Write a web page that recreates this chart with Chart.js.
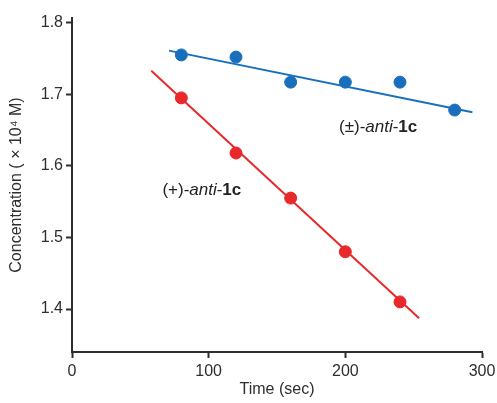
<!DOCTYPE html>
<html>
<head>
<meta charset="utf-8">
<script src="https://cdn.jsdelivr.net/npm/chart.js@4"></script>
<style>
  html, body { margin: 0; padding: 0; background: #fff; }
  #wrap { width: 497px; height: 403px; }
</style>
</head>
<body>
<div id="wrap"><canvas id="chart"></canvas></div>
<script>
// datos
const timeSec = [80, 120, 160, 200, 240, 280];
const racemic = [1.755, 1.752, 1.717, 1.717, 1.717, 1.678];
const timePlus = [80, 120, 160, 200, 240];
const plus = [1.695, 1.618, 1.555, 1.480, 1.410];
// extremos de las rectas de ajuste
const racemicFitX = [71, 293];
const racemicFitY = [1.761, 1.675];
const plusFitX = [58, 254];
const plusFitY = [1.733, 1.387];
const yTicks = [1.4, 1.5, 1.6, 1.7, 1.8];
const xTicks = [0, 100, 200, 300];

const blue = '#1a6fbd';
const red = '#e8282b';
const ink = '#2e2e2e';
const fam = '"Liberation Sans", Arial';

function pts(xs, ys) {
    return xs.map((x, i) => ({ x: x, y: ys[i] }));
}

// etiquetas con partes en cursiva y negrita
const labels = [
    { x: 224, y: 1.654, parts: [['(±)-', ''], ['anti', 'italic '], ['-', ''], ['1c', 'bold ']] },
    { x: 95, y: 1.566, parts: [['(+)-', ''], ['anti', 'italic '], ['-', ''], ['1c', 'bold ']] },
];

const labelPlugin = {
    id: 'labels',
    afterDatasetsDraw(c) {
        const ctx = c.ctx;
        ctx.save();
        ctx.fillStyle = '#222';
        ctx.textBaseline = 'middle';
        labels.forEach(l => {
            let w = 0;
            l.parts.forEach(p => { ctx.font = p[1] + '17px ' + fam; w += ctx.measureText(p[0]).width; });
            let px = c.scales.x.getPixelForValue(l.x) - w / 2;
            const py = c.scales.y.getPixelForValue(l.y);
            l.parts.forEach(p => {
                ctx.font = p[1] + '17px ' + fam;
                ctx.fillText(p[0], px, py);
                px += ctx.measureText(p[0]).width;
            });
        });
        ctx.restore();
    }
};

new Chart(document.getElementById('chart'), {
    type: 'scatter',
    data: {
        datasets: [
            { type: 'line', data: pts(racemicFitX, racemicFitY), borderColor: blue, borderWidth: 2, pointRadius: 0, fill: false },
            { type: 'line', data: pts(plusFitX, plusFitY), borderColor: red, borderWidth: 2, pointRadius: 0, fill: false },
            { data: pts(timeSec, racemic), backgroundColor: blue, borderColor: blue, pointRadius: 6 },
            { data: pts(timePlus, plus), backgroundColor: red, borderColor: red, pointRadius: 6 },
        ]
    },
    options: {
        responsive: true,
        maintainAspectRatio: false,
        animation: false,
        layout: { padding: { left: 0, right: 15, top: 18, bottom: 0 } },
        plugins: { legend: { display: false }, tooltip: { enabled: false } },
        scales: {
            x: {
                type: 'linear',
                min: 0,
                max: 300,
                afterBuildTicks: s => { s.ticks = xTicks.map(v => ({ value: v })); },
                afterFit: s => { s.height = 51; s.paddingLeft = 0; s.paddingRight = 0; },
                border: { color: ink, width: 2 },
                grid: { drawOnChartArea: false, tickLength: 6, tickColor: ink, tickWidth: 2 },
                ticks: { color: ink, padding: 4, font: { family: fam, size: 16 } },
                title: { display: true, text: 'Time (sec)', color: ink, padding: { top: 0 }, font: { family: fam, size: 16 } },
            },
            y: {
                type: 'linear',
                min: 1.34,
                max: 1.8066,
                afterBuildTicks: s => { s.ticks = yTicks.map(v => ({ value: v })); },
                afterFit: s => { s.width = 72; s.paddingTop = 0; s.paddingBottom = 0; },
                border: { color: ink, width: 2 },
                grid: { drawOnChartArea: false, tickLength: 6, tickColor: ink, tickWidth: 2 },
                ticks: { color: ink, padding: 3, callback: v => v.toFixed(1), font: { family: fam, size: 16 } },
                title: { display: true, text: 'Concentration ( × 10⁴ M)', color: ink, padding: { top: 7, bottom: 0 }, font: { family: fam, size: 16 } },
            },
        },
    },
    plugins: [labelPlugin],
});
</script>
</body>
</html>
